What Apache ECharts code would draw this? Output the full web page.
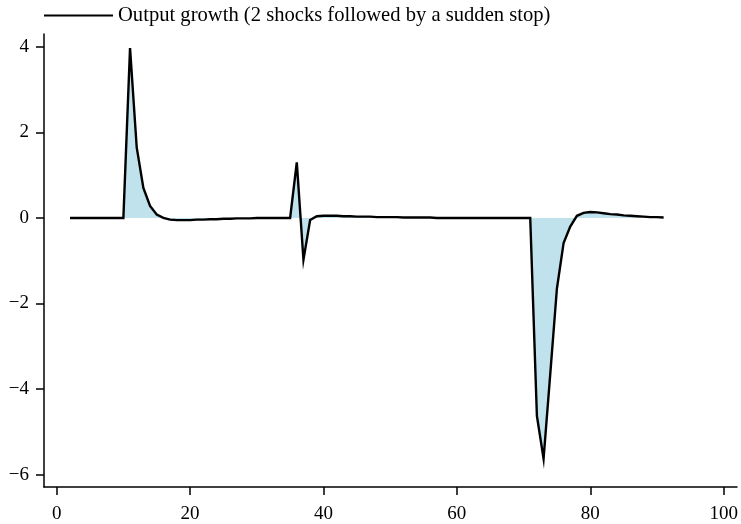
<!DOCTYPE html>
<html>
<head>
<meta charset="utf-8">
<script src="https://cdn.jsdelivr.net/npm/echarts@6/dist/echarts.min.js"></script>
<style>
html,body{margin:0;padding:0;background:#fff;}
#chart{width:741px;height:524px;}
</style>
</head>
<body>
<div id="chart"></div>
<script>
var periods = [2,3,4,5,6,7,8,9,10,11,12,13,14,15,16,17,18,19,20,21,22,23,24,25,26,27,28,29,30,
  31,32,33,34,35,36,37,38,39,40,41,42,43,44,45,46,47,48,49,50,51,52,53,54,55,56,57,58,59,60,
  61,62,63,64,65,66,67,68,69,70,71,72,73,74,75,76,77,78,79,80,81,82,83,84,85,86,87,88,89,90,91];
var outputGrowth = [0,0,0,0,0,0,0,0,0,3.97,1.65,0.70,0.28,0.08,0.0,
  -0.04,-0.05,-0.05,-0.05,-0.04,-0.04,-0.03,-0.03,-0.02,-0.02,-0.01,-0.01,-0.01,0,
  0,0,0,0,0,1.30,-0.98,-0.05,0.04,0.05,0.05,0.05,0.04,0.04,0.03,0.03,0.03,0.02,0.02,0.02,
  0.02,0.01,0.01,0.01,0.01,0.01,0,0,0,0,
  0,0,0,0,0,0,0,0,0,0,0,-4.63,-5.63,-3.65,-1.65,-0.59,-0.2,0.05,0.12,0.14,
  0.13,0.11,0.09,0.08,0.06,0.05,0.04,0.03,0.02,0.02,0.01];
var xTicks = [0,20,40,60,80,100];
var yTicks = [-6,-4,-2,0,2,4];
var seriesName = 'Output growth (2 shocks followed by a sudden stop)';

var data = periods.map(function(p,i){ return [p, outputGrowth[i]]; });
var font = '"Liberation Serif", "DejaVu Serif", serif';

var chart = echarts.init(document.getElementById('chart'));
chart.setOption({
  animation: false,
  backgroundColor: '#fff',
  legend: {
    left: 39, top: 0,
    icon: 'rect', itemWidth: 69, itemHeight: 2,
    textStyle: {fontFamily: font, fontSize: 20.6, color: '#000', lineHeight: 20},
    data: [seriesName]
  },
  grid: {left: 44, right: 4, top: 34, bottom: 36, containLabel: false},
  xAxis: {
    type: 'value', min: -1.9, max: 102,
    axisLine: {onZero: false, lineStyle: {color: '#000', width: 1.5}},
    axisTick: {customValues: xTicks, length: 8, lineStyle: {color: '#000', width: 1.5}},
    axisLabel: {customValues: xTicks, margin: 18, fontFamily: font, fontSize: 19, color: '#000'},
    splitLine: {show: false}
  },
  yAxis: {
    type: 'value', min: -6.29, max: 4.3,
    axisLine: {show: true, onZero: false, lineStyle: {color: '#000', width: 1.5}},
    axisTick: {show: true, customValues: yTicks, length: 8, lineStyle: {color: '#000', width: 1.5}},
    axisLabel: {customValues: yTicks, margin: 15, fontFamily: font, fontSize: 19, color: '#000',
      formatter: function(v){ return String(v).replace('-', '\u2212'); }},
    splitLine: {show: false}
  },
  series: [{
    name: seriesName,
    type: 'line',
    data: data,
    symbol: 'none',
    color: '#000',
    lineStyle: {color: '#000', width: 2.4, join: 'miter'},
    areaStyle: {color: '#bfe2ec', opacity: 1, origin: 0}
  }]
});
</script>
</body>
</html>
